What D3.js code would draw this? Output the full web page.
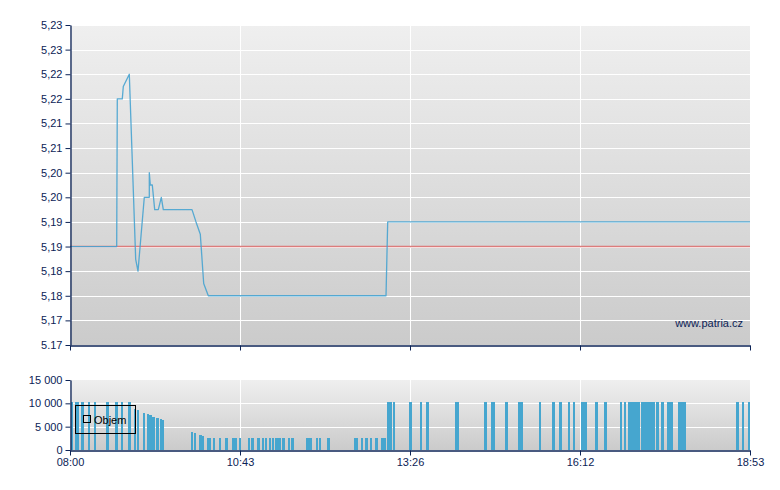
<!DOCTYPE html>
<html><head><meta charset="utf-8">
<script src="https://cdn.jsdelivr.net/npm/d3@7"></script>
<style>
body{margin:0;background:#fff;}
svg{display:block;font-family:Arial,"Liberation Sans",sans-serif;}
</style>
</head><body>
<svg id="c" width="780" height="490"></svg>
<script>
// ---------- data ----------
const priceTimes = ["08:00:00","08:44:50","08:45:25","08:50:13","08:51:11","08:56:57","09:03:05","09:05:18",
  "09:11:21","09:16:09","09:16:10","09:17:07","09:19:02","09:21:20","09:24:48","09:27:41","09:29:36",
  "09:57:10","10:01:00","10:05:08","10:08:23","10:12:49","13:03:28","13:05:05","18:53:00"];
const priceValues = [5.19,5.19,5.22,5.22,5.2225,5.225,5.1874,5.185,
  5.2,5.2,5.205,5.2025,5.2025,5.1975,5.1975,5.2,5.1975,
  5.1975,5.195,5.1925,5.1825,5.18,5.18,5.195,5.195];
const refValue = 5.19;

const volTimes = [
  "08:01","08:05","08:06","08:11","08:17","08:23","08:35","08:43","08:44","08:49","08:56",
  "09:01","09:04","09:10","09:14","09:16","09:19","09:23","09:26","09:28",
  "09:56","09:59","10:04","10:06",
  "10:12","10:13","10:17","10:23","10:29","10:36","10:38","10:42","10:51","10:54",
  "11:00","11:04","11:07","11:11","11:14","11:17","11:20","11:24","11:29","11:32",
  "11:33","11:47","11:48","11:49","11:50","11:56","11:59","12:07","12:33","12:34",
  "12:39","12:43","12:44","12:48","12:53","12:59","13:00","13:01",
  "13:04","13:06","13:07","13:10","13:26","13:36","13:42","14:10","14:11","14:38",
  "14:44","14:45","14:46","14:58","15:10","15:11","15:12","15:13","15:30","15:43",
  "15:50","15:58","16:03","16:11","16:12","16:13","16:14","16:24","16:25","16:33",
  "16:48","16:52","16:56","16:59","17:00","17:01","17:02","17:03","17:04","17:05",
  "17:08","17:09","17:10","17:11","17:12","17:13","17:14","17:15","17:16","17:17",
  "17:18","17:19","17:23","17:28","17:33","17:34","17:35","17:36","17:37","17:44",
  "17:45","17:46","17:47","17:48","17:49","18:40","18:45","18:51"];
const volValues = [
  10250,10250,10250,10250,10250,10250,10250,10250,10250,10250,10250,
  8800,8570,7930,7710,7500,7140,6860,6570,6430,
  3860,3640,3210,3000,
  2600,2600,2600,2600,2600,2600,2600,2600,2600,2600,
  2600,2600,2600,2600,2600,2600,2600,2600,2600,2600,
  2600,2600,2600,2600,2600,2600,2600,2600,2600,2600,
  2600,2600,2600,2600,2600,2600,2600,2600,
  10250,10250,10250,10250,10250,10250,10250,10250,10250,10250,
  10250,10250,10250,10250,10250,10250,10250,10250,10250,10250,
  10250,10250,10250,10250,10250,10250,10250,10250,10250,10250,
  10250,10250,10250,10250,10250,10250,10250,10250,10250,10250,
  10250,10250,10250,10250,10250,10250,10250,10250,10250,10250,
  10250,10250,10250,10250,10250,10250,10250,10250,10250,10250,
  10250,10250,10250,10250,10250,10250,10250,10250];

const yTickValues = [5.170,5.175,5.180,5.185,5.190,5.195,5.200,5.205,5.210,5.215,5.220,5.225,5.230,5.235];
const yTickLabels = ["5.17","5,17","5,18","5,18","5,19","5,19","5,20","5,20","5,21","5,21","5,22","5,22","5,23","5,23"];
const volTickValues = [0,5000,10000,15000];
const volTickLabels = ["0","5 000","10 000","15 000"];
const xTickLabels = ["08:00","10:43","13:26","16:12","18:53"];
const timeStart = "08:00:00", timeEnd = "18:53:00";
const legendLabel = "Objem";
const watermark = "www.patria.cz";

// ---------- setup ----------
const NAVY = "#0c2356";
const BLUE = "#46a6cf";
const svg = d3.select("#c");
const parseS = d3.timeParse("%H:%M:%S");
const parseM = d3.timeParse("%H:%M");

const L = 70, R = 750;
const mainTop = 25, mainBot = 345;
const volTop = 380, volBot = 450;

const x = d3.scaleTime().domain([parseS(timeStart), parseS(timeEnd)]).range([L, R]);
const y = d3.scaleLinear().domain([yTickValues[0], yTickValues[yTickValues.length-1]]).range([mainBot, mainTop]);
const yv = d3.scaleLinear().domain([0, 15000]).range([volBot, volTop]);

const d0 = x.domain()[0].getTime(), d1 = x.domain()[1].getTime();
const xTickDates = xTickLabels.map((_, i) => new Date(d0 + i * (d1 - d0) / (xTickLabels.length - 1)));

const defs = svg.append("defs");
const grad = defs.append("linearGradient").attr("id","bg").attr("x1",0).attr("y1",0).attr("x2",0).attr("y2",1);
grad.append("stop").attr("offset","0%").attr("stop-color","#efefef");
grad.append("stop").attr("offset","100%").attr("stop-color","#cbcbcb");
defs.append("clipPath").attr("id","clipMain").append("rect")
  .attr("x",L).attr("y",mainTop).attr("width",R-L).attr("height",mainBot-mainTop);
defs.append("clipPath").attr("id","clipVol").append("rect")
  .attr("x",L).attr("y",volTop).attr("width",R-L).attr("height",volBot-volTop);

// ---------- main panel ----------
svg.append("rect").attr("x",L).attr("y",mainTop).attr("width",R-L).attr("height",mainBot-mainTop).attr("fill","url(#bg)");
const gm = svg.append("g");
gm.selectAll("line.hg").data(yTickValues.slice(1)).join("line")
  .attr("x1",L).attr("x2",R)
  .attr("y1",d=>Math.round(y(d))+0.5).attr("y2",d=>Math.round(y(d))+0.5)
  .attr("stroke","#fff").attr("stroke-width",1);
gm.selectAll("line.vg").data(xTickDates.slice(1,-1)).join("line")
  .attr("x1",d=>Math.round(x(d))+0.5).attr("x2",d=>Math.round(x(d))+0.5)
  .attr("y1",mainTop).attr("y2",mainBot)
  .attr("stroke","#fff").attr("stroke-width",1);

gm.append("line").attr("x1",L).attr("x2",R).attr("y1",y(refValue)).attr("y2",y(refValue))
  .attr("stroke","#dc7c7c").attr("stroke-width",1.6);

const priceData = priceTimes.map((t,i)=>({t:parseS(t), v:priceValues[i]}));
gm.append("path").datum(priceData)
  .attr("clip-path","url(#clipMain)")
  .attr("fill","none").attr("stroke","#47a3d0").attr("stroke-opacity",0.9).attr("stroke-width",1.3)
  .attr("stroke-linejoin","round")
  .attr("d", d3.line().x(d=>x(d.t)).y(d=>y(d.v)));

svg.append("text").attr("x",743).attr("y",327).attr("text-anchor","end")
  .attr("font-size","11px").attr("fill",NAVY).text(watermark);

const axY = svg.append("g").attr("transform",`translate(${L+0.5},0)`)
  .call(d3.axisLeft(y).tickValues(yTickValues).tickFormat((d,i)=>yTickLabels[i]).tickSize(5).tickSizeOuter(0));
const axXm = svg.append("g").attr("transform",`translate(0,${mainBot+0.5})`)
  .call(d3.axisBottom(x).tickValues(xTickDates).tickFormat("").tickSize(5).tickSizeOuter(0));

// ---------- volume panel ----------
svg.append("rect").attr("x",L).attr("y",volTop).attr("width",R-L).attr("height",volBot-volTop).attr("fill","url(#bg)");
const gv = svg.append("g");
gv.selectAll("line.hg").data(volTickValues.slice(1,-1)).join("line")
  .attr("x1",L).attr("x2",R)
  .attr("y1",d=>Math.round(yv(d))+0.5).attr("y2",d=>Math.round(yv(d))+0.5)
  .attr("stroke","#fff").attr("stroke-width",1);
gv.selectAll("line.vg").data(xTickDates.slice(1,-1)).join("line")
  .attr("x1",d=>Math.round(x(d))+0.5).attr("x2",d=>Math.round(x(d))+0.5)
  .attr("y1",volTop).attr("y2",volBot)
  .attr("stroke","#fff").attr("stroke-width",1);

const volData = volTimes.map((t,i)=>({t:parseM(t), v:volValues[i]})).filter(d=>d.v!=null);
const barW = x(new Date(d0 + 2.3*60000)) - x(new Date(d0));
gv.append("g").attr("clip-path","url(#clipVol)")
  .selectAll("rect").data(volData).join("rect")
  .attr("x",d=>x(d.t)).attr("width",barW)
  .attr("y",d=>yv(d.v)).attr("height",d=>volBot - yv(d.v))
  .attr("fill",BLUE).attr("shape-rendering","crispEdges");

// legend
svg.append("rect").attr("x",75.5).attr("y",405.5).attr("width",60).attr("height",28)
  .attr("fill","none").attr("stroke","#000").attr("stroke-width",1);
svg.append("rect").attr("x",83.5).attr("y",415.5).attr("width",7).attr("height",7)
  .attr("fill","none").attr("stroke","#000").attr("stroke-width",1);
svg.append("text").attr("x",94).attr("y",424).attr("font-size","11px").attr("fill","#000").text(legendLabel);

const axYv = svg.append("g").attr("transform",`translate(${L+0.5},0)`)
  .call(d3.axisLeft(yv).tickValues(volTickValues).tickFormat((d,i)=>volTickLabels[i]).tickSize(5).tickSizeOuter(0));
const axXv = svg.append("g").attr("transform",`translate(0,${volBot+0.5})`)
  .call(d3.axisBottom(x).tickValues(xTickDates).tickFormat((d,i)=>xTickLabels[i]).tickSize(5).tickSizeOuter(0));

[axY, axXm, axYv, axXv].forEach(g=>{
  g.selectAll("path.domain").attr("stroke",NAVY).attr("stroke-width",1.3);
  g.selectAll(".tick line").attr("stroke",NAVY);
  g.selectAll(".tick text").attr("fill",NAVY).attr("font-size","11px").attr("font-family",'Arial,"Liberation Sans",sans-serif');
});
</script>
</body></html>
